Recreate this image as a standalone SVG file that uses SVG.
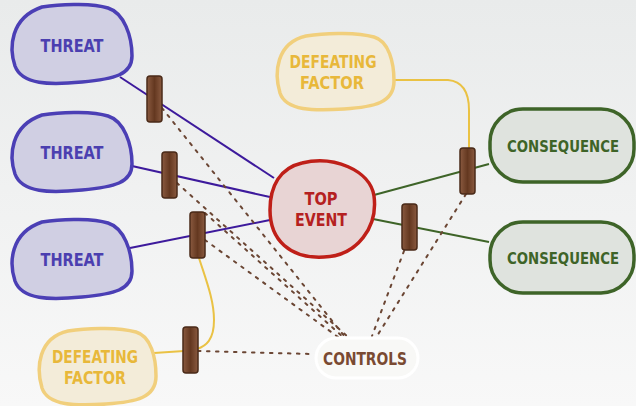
<svg xmlns="http://www.w3.org/2000/svg" width="636" height="406" viewBox="0 0 636 406">
<defs>
<linearGradient id="bg" x1="0" y1="0" x2="0" y2="1">
<stop offset="0" stop-color="#e9ebeb"/>
<stop offset="1" stop-color="#f8f8f8"/>
</linearGradient>
<linearGradient id="bar" x1="0" y1="0" x2="1" y2="0">
<stop offset="0" stop-color="#8a5a40"/>
<stop offset="0.5" stop-color="#643820"/>
<stop offset="1" stop-color="#8a5a40"/>
</linearGradient>
<path id="threatShape" d="M42,7 C65,3 95,4 108,8 C124,13 132,36 132,56 C132,75 114,79 82,82 C50,85 22,85 15,66 C9,48 10,18 42,7 Z"/>
<path id="dfShape" d="M32,3 C55,-1 85,0 100,4 C115,8 120,30 120,48 C120,70 100,74 70,76 C40,78 12,78 6,60 C0,40 2,10 32,3 Z"/>
<rect id="barrier" x="0" y="0" width="15" height="46" rx="3"/>
<style>
.threat{fill:#d0cfe3;stroke:#4b3fb5;stroke-width:3.5}
.threatT{fill:#4b3fb0}
.top{fill:#e8d4d4;stroke:#bf1f18;stroke-width:3.5}
.topT{fill:#b52020}
.cons{fill:#dfe3de;stroke:#3e6428;stroke-width:3.5}
.consT{fill:#3e6428;font-size:16.5px}
.df{fill:#f3ecd9;stroke:#f1cf7c;stroke-width:3.5}
.dfT{fill:#e8b83a}
.ctrl{fill:#f8f8f6;stroke:#ffffff;stroke-width:3}
.ctrlT{fill:#7a4a32}
text{font-family:"DejaVu Sans Condensed","DejaVu Sans",sans-serif;font-weight:bold;font-size:18px;text-anchor:middle}
.two{font-size:17px}
.bar{fill:url(#bar);stroke:#4a2a18;stroke-width:1.5}
.lp{fill:none;stroke:#3d1a9c;stroke-width:2}
.lg{fill:none;stroke:#3e6428;stroke-width:2}
.ly{fill:none;stroke:#eac244;stroke-width:2}
.ld{fill:none;stroke:#6b4634;stroke-width:2;stroke-dasharray:2.5 6.5;stroke-linecap:round}
</style>
</defs>
<rect x="0" y="0" width="636" height="406" fill="url(#bg)"/>

<g id="connectors">
<path class="lp" d="M120,77 L274,178"/>
<path class="lp" d="M132,166 L270,197"/>
<path class="lp" d="M130,248 L270,220"/>
<path class="lg" d="M374,195 L489,164"/>
<path class="lg" d="M373,219 L489,242"/>
<path class="ly" d="M394,80 L448,80 Q469,82 469,110 L469,148"/>
<path class="ly" d="M154,353 L184,351"/>
<path class="ly" d="M199,258 C206,280 214,300 214,320 C214,340 206,346 197,349"/>
<path class="ld" d="M162,108 L345,337"/>
<path class="ld" d="M177,183 L348,337"/>
<path class="ld" d="M205,213 L343,337"/>
<path class="ld" d="M205,240 L338,337"/>
<path class="ld" d="M198,351 L312,354"/>
<path class="ld" d="M466,194 L377,336"/>
<path class="ld" d="M404,251 L372,336"/>
</g>

<g id="threat1">
<use href="#threatShape" class="threat"/>
<text class="threatT" x="72" y="52" textLength="63" lengthAdjust="spacingAndGlyphs">THREAT</text>
</g>
<g id="threat2">
<use href="#threatShape" class="threat" transform="translate(0,108)"/>
<text class="threatT" x="72" y="159" textLength="63" lengthAdjust="spacingAndGlyphs">THREAT</text>
</g>
<g id="threat3">
<use href="#threatShape" class="threat" transform="translate(0,215)"/>
<text class="threatT" x="72" y="266" textLength="63" lengthAdjust="spacingAndGlyphs">THREAT</text>
</g>

<g id="top-event">
<path class="top" d="M302,163 C333,155 370,170 374,196 C378,226 358,256 324,257 C290,259 270,240 270,210 C270,186 280,168 302,163 Z"/>
<text class="topT two" x="321" y="205" textLength="33" lengthAdjust="spacingAndGlyphs">TOP</text>
<text class="topT two" x="321" y="226" textLength="52" lengthAdjust="spacingAndGlyphs">EVENT</text>
</g>

<g id="consequence1">
<rect class="cons" x="490" y="109" width="144" height="73" rx="33"/>
<text class="consT" x="563" y="152" textLength="112" lengthAdjust="spacingAndGlyphs">CONSEQUENCE</text>
</g>
<g id="consequence2">
<rect class="cons" x="490" y="222" width="144" height="71" rx="33"/>
<text class="consT" x="563" y="264" textLength="112" lengthAdjust="spacingAndGlyphs">CONSEQUENCE</text>
</g>

<g id="defeating-factor-top">
<use href="#dfShape" class="df" transform="translate(274,33)"/>
<text class="dfT two" x="333" y="68" textLength="87" lengthAdjust="spacingAndGlyphs">DEFEATING</text>
<text class="dfT two" x="332" y="89" textLength="64" lengthAdjust="spacingAndGlyphs">FACTOR</text>
</g>
<g id="defeating-factor-bottom">
<use href="#dfShape" class="df" transform="translate(36,328)"/>
<text class="dfT two" x="95" y="363" textLength="86" lengthAdjust="spacingAndGlyphs">DEFEATING</text>
<text class="dfT two" x="95" y="384" textLength="62" lengthAdjust="spacingAndGlyphs">FACTOR</text>
</g>

<g id="controls">
<rect class="ctrl" x="316" y="338" width="102" height="40" rx="20"/>
<text class="ctrlT" x="365" y="365" textLength="84" lengthAdjust="spacingAndGlyphs">CONTROLS</text>
</g>

<g id="barrier1"><use href="#barrier" class="bar" transform="translate(147,76)"/></g>
<g id="barrier2"><use href="#barrier" class="bar" transform="translate(162,152)"/></g>
<g id="barrier3"><use href="#barrier" class="bar" transform="translate(190,212)"/></g>
<g id="barrier4"><use href="#barrier" class="bar" transform="translate(183,327)"/></g>
<g id="barrier5"><use href="#barrier" class="bar" transform="translate(460,148)"/></g>
<g id="barrier6"><use href="#barrier" class="bar" transform="translate(402,204)"/></g>
</svg>
